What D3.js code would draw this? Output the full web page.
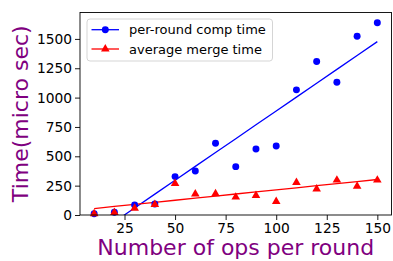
<!DOCTYPE html>
<html>
<head>
<meta charset="utf-8">
<script src="https://cdn.jsdelivr.net/npm/d3@7"></script>
<style>
  body { margin: 0; background: #fff; }
  svg { display: block; font-family: 'DejaVu Sans', sans-serif; }
</style>
</head>
<body>
<div id="app"></div>
<script>
const opsPerRound = [10, 20, 30, 40, 50, 60, 70, 80, 90, 100, 110, 120, 130, 140, 150]
const compTime = [10, 23, 85, 94, 327, 375, 611, 412, 563, 588, 1066, 1307, 1131, 1523, 1637]
const mergeTime = [17, 28, 65, 97, 276, 185, 188, 159, 173, 122, 283, 229, 304, 251, 304]
const xTicks = [25, 50, 75, 100, 125, 150]
const yTicks = [0, 250, 500, 750, 1000, 1250, 1500]
const seriesNames = ['per-round comp time', 'average merge time']

const w = 393
const h = 261
const margin = {left: 80, right: 1.5, top: 12.5, bottom: 46}

// least squares fit, same as np.polyfit(x, y, 1)
const fitLine = function (xs, ys) {
  const mx = d3.mean(xs)
  const my = d3.mean(ys)
  let num = 0
  let den = 0
  xs.forEach((x, i) => {
    num += (x - mx) * (ys[i] - my)
    den += (x - mx) * (x - mx)
  })
  const slope = num / den
  return xs.map((x) => my + slope * (x - mx))
}

const svg = d3.select('#app')
  .append('svg')
  .attr('width', w)
  .attr('height', h)

const x = d3.scaleLinear()
  .domain([3, 157])
  .range([margin.left, w - margin.right])
const y = d3.scaleLinear()
  .domain([0, 1725])
  .range([h - margin.bottom, margin.top])

svg.append('clipPath')
  .attr('id', 'plot-clip')
  .append('rect')
  .attr('x', margin.left)
  .attr('y', margin.top)
  .attr('width', w - margin.left - margin.right)
  .attr('height', h - margin.top - margin.bottom)

const series = [
  {name: seriesNames[0], values: compTime, color: '#0000ff', marker: d3.symbolCircle},
  {name: seriesNames[1], values: mergeTime, color: '#ff0000', marker: d3.symbolTriangle}
]

const line = d3.line()
  .x((d) => x(d[0]))
  .y((d) => y(d[1]))

const plot = svg.append('g').attr('clip-path', 'url(#plot-clip)')

series.forEach(function (s) {
  const fit = fitLine(opsPerRound, s.values)
  plot.append('path')
    .datum(opsPerRound.map((v, i) => [v, fit[i]]))
    .attr('d', line)
    .attr('fill', 'none')
    .attr('stroke', s.color)
    .attr('stroke-width', 1.3)
})

series.forEach(function (s) {
  const sym = s.marker === d3.symbolCircle ? 38 : 32
  svg.append('g')
    .selectAll('path')
    .data(opsPerRound.map((v, i) => [v, s.values[i]]))
    .enter().append('path')
    .attr('d', d3.symbol().type(s.marker).size(sym))
    .attr('transform', (d) => 'translate(' + x(d[0]) + ',' + (y(d[1]) + (s.marker === d3.symbolTriangle ? 0.8 : 0)) + ')')
    .attr('fill', s.color)
})

// axes
const xAxis = svg.append('g')
  .attr('transform', 'translate(0,' + (h - margin.bottom) + ')')
  .call(d3.axisBottom(x).tickValues(xTicks).tickFormat(d3.format('d')).tickSize(5).tickPadding(3))
const yAxis = svg.append('g')
  .attr('transform', 'translate(' + margin.left + ',0)')
  .call(d3.axisLeft(y).tickValues(yTicks).tickFormat(d3.format('d')).tickSize(5).tickPadding(3))

;[xAxis, yAxis].forEach(function (a) {
  a.select('.domain').remove()
  a.selectAll('text').attr('font-size', 13.8).attr('font-family', 'DejaVu Sans').attr('fill', '#000')
  a.selectAll('line').attr('stroke', '#000').attr('stroke-width', 0.9)
})

svg.append('rect')
  .attr('x', margin.left)
  .attr('y', margin.top)
  .attr('width', w - margin.left - margin.right)
  .attr('height', h - margin.top - margin.bottom)
  .attr('fill', 'none')
  .attr('stroke', '#000')
  .attr('stroke-width', 0.9)

// axis labels
svg.append('text')
  .attr('x', (margin.left + w - margin.right) / 2)
  .attr('y', 255)
  .attr('text-anchor', 'middle')
  .attr('font-size', 22)
  .attr('fill', '#800080')
  .text('Number of ops per round')

svg.append('text')
  .attr('transform', 'translate(28,' + (margin.top + h - margin.bottom) / 2 + ') rotate(-90)')
  .attr('text-anchor', 'middle')
  .attr('font-size', 22)
  .attr('fill', '#800080')
  .text('Time(micro sec)')

// legend
const legend = svg.append('g').attr('transform', 'translate(87,19)')
legend.append('rect')
  .attr('width', 185.5)
  .attr('height', 42)
  .attr('rx', 3)
  .attr('fill', '#fff')
  .attr('fill-opacity', 0.8)
  .attr('stroke', '#d0d0d0')
  .attr('stroke-width', 0.9)

const item = legend.selectAll('.item')
  .data(series)
  .enter().append('g')
  .attr('class', 'item')
  .attr('transform', (d, i) => 'translate(0,' + (10.7 + i * 19.3) + ')')

item.append('line')
  .attr('x1', 4.5)
  .attr('x2', 32)
  .attr('stroke', (d) => d.color)
  .attr('stroke-width', 1.3)
item.append('path')
  .attr('d', (d) => d3.symbol().type(d.marker).size(d.marker === d3.symbolCircle ? 38 : 32)())
  .attr('transform', 'translate(18.3,0)')
  .attr('fill', (d) => d.color)
item.append('text')
  .attr('x', 42)
  .attr('y', 4.7)
  .attr('font-size', 13)
  .attr('fill', '#000')
  .text((d) => d.name)
</script>
</body>
</html>
